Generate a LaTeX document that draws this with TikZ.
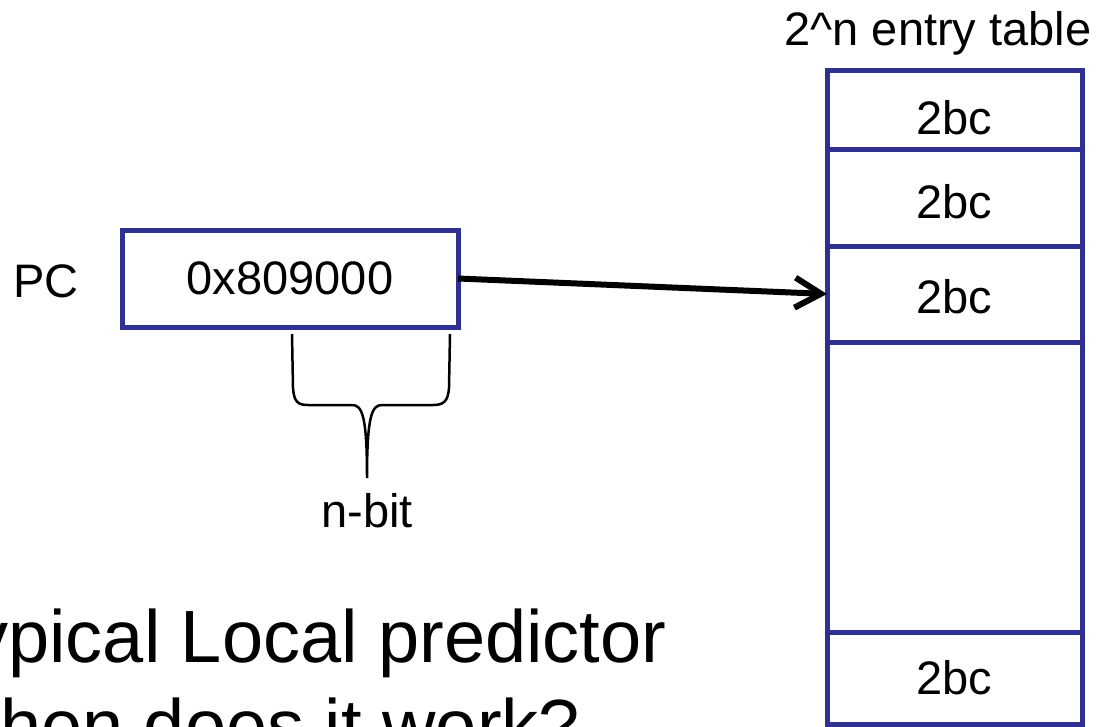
\documentclass[tikz,border=0pt]{standalone}
\usepackage{fontspec}
\setmainfont{Liberation Sans}
\usetikzlibrary{positioning, arrows.meta}

\definecolor{regblue}{RGB}{46,49,145}

\tikzset{
  regbox/.style={draw=regblue, line width=5pt, minimum width=336pt, minimum height=97pt, inner sep=0pt, outer sep=0pt},
  cellbox/.style={draw=regblue, line width=5pt, minimum width=255pt, inner sep=0pt, outer sep=0pt},
  small/.style={font=\fontsize{47}{56}\selectfont, inner sep=0pt},
  big/.style={font=\fontsize{74}{89}\selectfont, inner sep=0pt, anchor=base west},
  idxarrow/.style={line width=6pt, -{Straight Barb[length=26pt,width=30pt]}},
  braceline/.style={line width=2.5pt}
}

\begin{document}
\begin{tikzpicture}[x=1pt, y=-1pt]
  \clip (0,0) rectangle (1097,726);

  % Program counter
  \node (pc) [regbox, small] at (290,278.5) {0x809000};
  \node (pclabel) [small] at (46,281) {PC};

  % Counter table
  \node (title) [small] at (938,33) {2\textasciicircum n entry table};
  \node (c1) [cellbox, minimum height=79pt, anchor=north] at (954.5,70) {};
  \node (c2) [cellbox, minimum height=97pt, below=0pt of c1] {};
  \node (c3) [cellbox, minimum height=96pt, below=0pt of c2] {};
  \node (c4) [cellbox, minimum height=290pt, below=0pt of c3] {};
  \node (c5) [cellbox, minimum height=92pt, below=0pt of c4] {};

  \node (l1) [small] at ([yshift=-8pt]c1.center) {2bc};
  \node (l2) [small] at ([yshift=-4pt]c2.center) {2bc};
  \node (l3) [small] at ([yshift=-3pt]c3.center) {2bc};
  \node (l5) [small] at (c5.center) {2bc};

  % Index into table
  \draw[idxarrow] (pc.east) -- (c3.west);

  % Brace under the low bits
  \coordinate (tip) at (367,478);
  \draw[braceline] (292,334) -- (293,388) .. controls (294,402) and (298,405) .. (308,405)
    -- (352,405) .. controls (362,405) and (367,415) .. (tip)
    .. controls (367,415) and (372,405) .. (382,405) -- (433,405)
    .. controls (443,405) and (448,402) .. (449,388) -- (450,334);
  \node (nbit) [small, below=15pt of tip] {n-bit};

  % Slide text
  \node (line1) [big] at (-70,662) {Typical Local predictor};
  \node (line2) [big] at (-70,751) {When does it work?};
\end{tikzpicture}
\end{document}
